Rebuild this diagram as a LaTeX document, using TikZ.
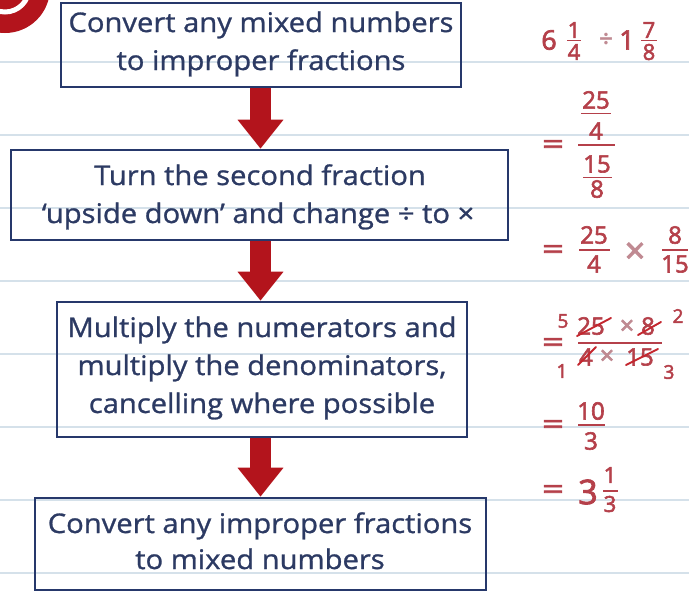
\documentclass[tikz,border=0pt]{standalone}
\usepackage{fontspec}
\setmainfont{Open Sans}[FakeStretch=1.08,FakeBold=1]
\newfontfamily\mf{Open Sans}[FakeStretch=1.0,FakeBold=2.5]
\usetikzlibrary{arrows.meta,calc}
\definecolor{navy}{HTML}{26386B}
\definecolor{txt}{HTML}{2C3A63}
\definecolor{arr}{HTML}{B3141C}
\definecolor{mred}{HTML}{B5404A}
\definecolor{mlight}{HTML}{C08A92}
\definecolor{strk}{HTML}{C4262E}
\definecolor{rulec}{HTML}{D5E1EA}
\begin{document}
\begin{tikzpicture}[x=1pt,y=-1pt,
  box/.style={draw=navy,line width=2.6pt,inner sep=0pt},
  ln/.style={text=txt,font=\fontsize{27}{27}\selectfont,inner sep=0pt,anchor=base},
  bigarrow/.style={draw=arr,line width=21pt,-{Triangle[length=29pt 0 0,width=44pt 0 0]}},
  mnum/.style={text=mred,font=\mf\fontsize{24}{24}\selectfont,inner sep=0pt},
  msm/.style={text=mred,font=\mf\fontsize{22}{22}\selectfont,inner sep=0pt},
  mtiny/.style={text=mred,font=\mf\fontsize{19}{19}\selectfont,inner sep=0pt},
  mbig/.style={text=mred,font=\mf\fontsize{27}{27}\selectfont,inner sep=0pt},
  mhuge/.style={text=mred,font=\mf\fontsize{34}{34}\selectfont,inner sep=0pt},
  eqs/.style={text=mred,font=\mf\fontsize{28}{28}\selectfont,inner sep=0pt},
  mop/.style={text=mlight,font=\mf\fontsize{36}{36}\selectfont,inner sep=0pt},
  mdiv/.style={text=mlight,font=\mf\fontsize{24}{24}\selectfont,inner sep=0pt},
  mopsm/.style={text=mlight,font=\mf\fontsize{25}{25}\selectfont,inner sep=0pt},
  fbar/.style={draw=mred,line width=1.8pt},
  strike/.style={draw=strk,line width=1.9pt,line cap=round}
]
\useasboundingbox (0,0) rectangle (689,592);
\fill[white] (0,0) rectangle (689,592);
% ruled lines
\foreach \yy in {62,135,208,281,354,427,500,573}
  \draw[rulec,line width=1.2pt] (0,\yy) -- (689,\yy);
% badge
\fill[arr] (5,-12) circle (45);
\draw[white,line width=5pt] (5,-12) circle (24);
% boxes
\node[box,minimum width=400pt,minimum height=84pt] (b1) at (261,45) {};
\node[box,minimum width=497pt,minimum height=90pt] (b2) at (259.5,195) {};
\node[box,minimum width=410pt,minimum height=135pt] (b3) at (262,369.5) {};
\node[box,minimum width=451pt,minimum height=92pt] (b4) at (260.5,544) {};
\coordinate (ax) at (260.5,0);
% arrows
\draw[bigarrow] (b1.south -| ax) -- (b2.north -| ax);
\draw[bigarrow] (b2.south -| ax) -- (b3.north -| ax);
\draw[bigarrow] (b3.south -| ax) -- (b4.north -| ax);
% texts
\node[ln] (t1a) at (261,32) {Convert any mixed numbers};
\node[ln] (t1b) at (261,70) {to improper fractions};
\node[ln] (t2a) at (260,185) {Turn the second fraction};
\node[ln] (t2b) at (258,223) {‘upside down’ and change ÷ to ×};
\node[ln] (t3a) at (262,337) {Multiply the numerators and};
\node[ln] (t3b) at (262,375) {multiply the denominators,};
\node[ln] (t3c) at (262,413) {cancelling where possible};
\node[ln] (t4a) at (260,533) {Convert any improper fractions};
\node[ln] (t4b) at (260,569) {to mixed numbers};
% row 1
\node[mbig] (w6) at (549,40) {6};
\node[msm] (n1a) at (574,30) {1};
\draw[fbar] (567,40.5) -- (581,40.5);
\node[msm] (d1a) at (574,52) {4};
\node[mdiv] (dv) at (606,40) {÷};
\node[mbig] (w1) at (627,40) {1};
\node[msm] (n1b) at (649,30) {7};
\draw[fbar] (641,40.5) -- (657,40.5);
\node[msm] (d1b) at (649,52) {8};
% row 2
\node[eqs] (e2) at (553,147) {\scalebox{1.35}[1]{=}};
\node[mnum] (n2a) at (596,100) {25};
\draw[fbar] (581,113.5) -- (611,113.5);
\node[mnum] (d2a) at (596,131) {4};
\draw[fbar] (578,145) -- (615,145);
\node[mnum] (n2b) at (597,164) {15};
\draw[fbar] (583,177.5) -- (612,177.5);
\node[mnum] (d2b) at (597,189) {8};
% row 3
\node[eqs] (e3) at (553,252) {\scalebox{1.35}[1]{=}};
\node[mnum] (n3a) at (594,235) {25};
\draw[fbar] (579,250) -- (610,250);
\node[mnum] (d3a) at (594,264) {4};
\node[mop] (x3) at (635,253) {×};
\node[mnum] (n3b) at (675,235) {8};
\draw[fbar] (662,250) -- (688,250);
\node[mnum] (d3b) at (675,264) {15};
% row 4
\node[eqs] (e4) at (553,345) {\scalebox{1.35}[1]{=}};
\node[mtiny] (c5) at (563,321) {5};
\node[mnum] (n4a) at (591,326) {25};
\node[mopsm] (x4a) at (627,327) {×};
\node[mnum] (n4b) at (648,326) {8};
\draw[fbar] (578,343) -- (662,343);
\node[mnum] (d4a) at (586,357) {4};
\node[mopsm] (x4b) at (607,357) {×};
\node[mnum] (d4b) at (640,357) {15};
\node[mtiny] (c1) at (562,371) {1};
\node[mtiny] (c2) at (678,316) {2};
\node[mtiny] (c3) at (669,372) {3};
\draw[strike] (577,336) -- (611,318);
\draw[strike] (638,335) -- (661,322);
\draw[strike] (578,365) -- (596,347);
\draw[strike] (626,365) -- (658,349);
% row 5
\node[eqs] (e5) at (553,427) {\scalebox{1.35}[1]{=}};
\node[mnum] (n5) at (591,411) {10};
\draw[fbar] (578,425) -- (605,425);
\node[mnum] (d5) at (591,441) {3};
% row 6
\node[eqs] (e6) at (553,492) {\scalebox{1.35}[1]{=}};
\node[mhuge] (w3) at (588,492) {3};
\node[msm] (n6) at (610,475) {1};
\draw[fbar] (603,491) -- (618,491);
\node[msm] (d6) at (610,504) {3};
\end{tikzpicture}
\end{document}
